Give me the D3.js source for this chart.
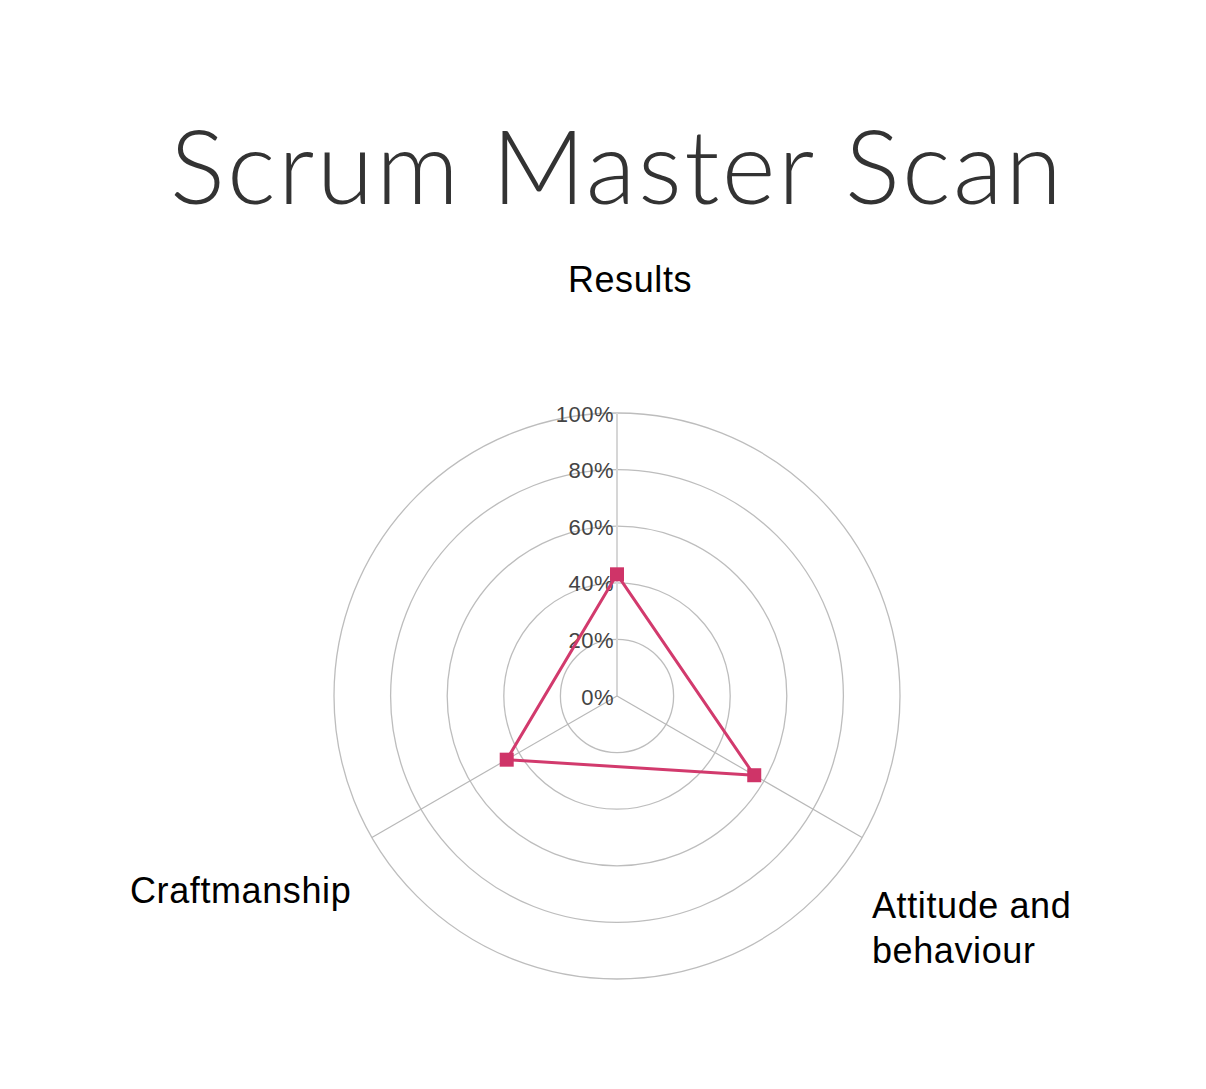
<!DOCTYPE html>
<html>
<head>
<meta charset="utf-8">
<script src="https://cdn.jsdelivr.net/npm/d3@7"></script>
<style>
  html, body { margin: 0; padding: 0; background: #ffffff; }
  svg { display: block; }
</style>
</head>
<body>
<svg id="chart" width="1206" height="1089"></svg>
<script>
// ---- data ----
const title = "Scrum Master Scan";
const categories = ["Results", "Attitude and behaviour", "Craftmanship"];
const values = [43, 56, 45];
const tickValues = [0, 20, 40, 60, 80, 100];
const tickLabels = ["0%", "20%", "40%", "60%", "80%", "100%"];

// ---- layout ----
const W = 1206, H = 1089;
const cx = 617, cy = 696, R = 283;
const svg = d3.select("#chart");
svg.append("rect").attr("width", W).attr("height", H).attr("fill", "#fff");

const r = d3.scaleLinear().domain([0, 100]).range([0, R]);
const angle = d3.scaleLinear().domain([0, categories.length]).range([0, 2 * Math.PI]);
const pt = (i, v) => [Math.sin(angle(i)) * r(v), -Math.cos(angle(i)) * r(v)];

// title
const titleFs = 103;
const t = svg.append("text")
  .attr("x", 170).attr("y", 204)
  .attr("font-family", "Lato, 'Open Sans', sans-serif")
  .attr("font-weight", 300)
  .attr("font-size", titleFs)
  .attr("fill", "#333333")
  .text(title);
const tw = t.node().getComputedTextLength();
t.attr("letter-spacing", (892 - tw) / (title.length - 1));

const g = svg.append("g").attr("transform", `translate(${cx},${cy})`);

// rings
g.selectAll("circle.ring")
  .data(tickValues.filter(d => d > 0))
  .join("circle")
  .attr("class", "ring")
  .attr("r", d => r(d))
  .attr("fill", "none")
  .attr("stroke", "#bdbdbd")
  .attr("stroke-width", 1.3);

// spokes
g.selectAll("line.spoke")
  .data(categories)
  .join("line")
  .attr("class", "spoke")
  .attr("x1", 0).attr("y1", 0)
  .attr("x2", (d, i) => pt(i, 100)[0])
  .attr("y2", (d, i) => pt(i, 100)[1])
  .attr("stroke", (d, i) => i === 0 ? "#d6d6d6" : "#b8b8b8")
  .attr("stroke-width", (d, i) => i === 0 ? 2 : 1.2);

// tick labels
g.selectAll("text.tick")
  .data(tickValues)
  .join("text")
  .attr("class", "tick")
  .attr("x", -3)
  .attr("y", d => -r(d) + 1)
  .attr("text-anchor", "end")
  .attr("dominant-baseline", "central")
  .attr("font-family", "'Liberation Sans', Arial, sans-serif")
  .attr("font-size", 22)
  .attr("letter-spacing", 0.5)
  .attr("fill", "#444444")
  .text((d, i) => tickLabels[i]);

// data polygon
const line = d3.line().curve(d3.curveLinearClosed);
const pts = values.map((v, i) => pt(i, v));
g.append("path")
  .attr("d", line(pts))
  .attr("fill", "none")
  .attr("stroke", "#d23a6d")
  .attr("stroke-width", 3)
  .attr("stroke-linejoin", "round");

g.selectAll("rect.marker")
  .data(pts)
  .join("rect")
  .attr("class", "marker")
  .attr("x", d => d[0] - 7)
  .attr("y", d => d[1] - 7)
  .attr("width", 14).attr("height", 14)
  .attr("fill", "#cf3468");

// category labels
const labelFont = "'Liberation Sans', Arial, Helvetica, sans-serif";
const labelSpec = [
  { dx: 13, dy: -R - 121, anchor: "middle" },
  { dx: 255, dy: 222, anchor: "start" },
  { dx: -487, dy: 207, anchor: "start" }
];
const wrapLines = [["Results"], ["Attitude and", "behaviour"], ["Craftmanship"]];
categories.forEach((c, i) => {
  const s = labelSpec[i];
  const tx = g.append("text")
    .attr("x", s.dx).attr("y", s.dy)
    .attr("text-anchor", s.anchor)
    .attr("font-family", labelFont)
    .attr("font-size", 36)
    .attr("letter-spacing", 0.6)
    .attr("fill", "#000");
  wrapLines[i].forEach((ln, k) => {
    tx.append("tspan").attr("x", s.dx).attr("dy", k === 0 ? 0 : 45).text(ln);
  });
});
</script>
</body>
</html>
